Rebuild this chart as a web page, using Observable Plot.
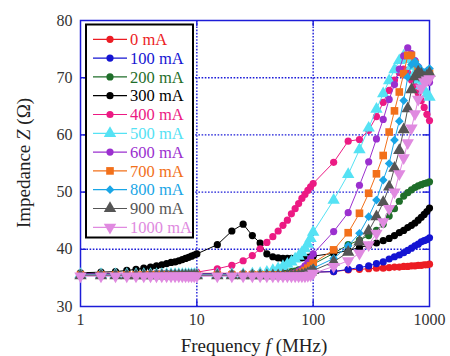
<!DOCTYPE html>
<html><head><meta charset="utf-8">
<script src="https://cdn.jsdelivr.net/npm/d3@7"></script>
<script src="https://cdn.jsdelivr.net/npm/@observablehq/plot@0.6"></script>
<style>body{margin:0;background:#fff}#chart{width:450px;height:356px}</style>
</head><body><div id="chart"></div>
<script>
// Frequency sweep (MHz)
const freq = [1,1.5,2,2.5,3,3.5,4,4.5,5,5.5,6,6.5,7,7.5,8,8.5,9,9.5,10,
  15,20,25,30,35,40,45,50,55,60,65,70,75,80,85,90,95,100,
  150,200,250,300,350,400,450,500,550,600,650,700,750,800,850,900,950,1000];

// Impedance Z (Ohm) for each bias current
const z0 = [35.8,35.8,35.8,35.8,35.8,35.8,35.8,35.8,35.8,35.8,35.8,35.8,35.8,35.8,35.8,35.8,35.8,35.8,35.8,
  35.8,35.8,35.8,35.8,35.8,35.8,35.8,35.8,35.8,35.8,35.8,35.9,35.9,35.9,35.9,35.9,35.9,36.0,
  36.1,36.4,36.5,36.6,36.7,36.7,36.8,36.9,36.9,37.0,37.0,37.1,37.1,37.2,37.2,37.3,37.3,37.4];
const z100 = [35.7,35.7,35.7,35.7,35.7,35.7,35.7,35.7,35.7,35.7,35.7,35.7,35.7,35.7,35.7,35.7,35.7,35.7,35.7,
  35.7,35.7,35.7,35.7,35.7,35.7,35.7,35.7,35.7,35.7,35.7,35.7,35.7,35.7,35.8,35.8,35.9,36.0,
  36.1,36.5,36.8,37.1,37.5,37.8,38.3,38.7,39.0,39.4,39.8,40.2,40.6,40.9,41.3,41.5,41.7,42.0];
const z200 = [35.6,35.6,35.6,35.6,35.6,35.6,35.6,35.6,35.6,35.6,35.6,35.6,35.6,35.6,35.6,35.6,35.6,35.6,35.6,
  35.6,35.6,35.6,35.6,35.7,35.7,35.8,35.8,35.9,36.0,36.1,36.2,36.4,36.5,36.7,36.9,37.1,37.4,
  39.3,40.8,41.6,42.4,43.3,44.4,45.8,47.1,48.4,49.3,49.9,50.4,50.8,51.1,51.3,51.5,51.6,51.8];
const z300 = [35.9,36.0,36.1,36.3,36.5,36.7,36.9,37.1,37.3,37.5,37.7,37.8,38.0,38.2,38.4,38.6,38.8,39.0,39.2,
  40.8,43.2,44.4,42.4,41.1,39.2,38.7,38.5,38.4,38.4,38.4,38.4,38.5,38.5,38.6,38.6,38.7,38.8,
  39.3,39.8,40.3,40.7,41.1,41.5,41.9,42.4,42.9,43.3,43.8,44.2,44.6,45.1,45.6,46.1,46.6,47.2];
const z400 = [35.6,35.6,35.6,35.6,35.6,35.6,35.6,35.6,35.6,35.7,35.7,35.7,35.7,35.8,35.8,35.8,35.9,35.9,36.0,
  36.6,37.2,38.0,38.9,40.1,41.2,42.2,43.2,44.2,45.1,46.2,47.1,48.0,48.9,49.6,50.3,50.9,51.5,
  55.2,58.9,59.2,60.8,63.2,65.7,67.8,69.6,70.9,71.5,70.8,69.6,68.5,67.3,66.0,64.8,63.6,62.5];
const z500 = [35.6,35.6,35.6,35.6,35.6,35.6,35.6,35.6,35.6,35.6,35.6,35.6,35.6,35.6,35.6,35.6,35.6,35.6,35.6,
  35.6,35.6,35.6,35.7,35.8,36.0,36.3,36.6,37.0,37.4,37.8,38.3,38.8,39.4,40.1,40.9,41.9,43.0,
  48.6,53.1,57.4,61.2,64.5,67.2,69.5,71.4,73.0,73.8,73.2,72.0,70.8,69.6,68.6,67.8,67.1,66.6];
const z600 = [35.5,35.5,35.5,35.5,35.5,35.5,35.5,35.5,35.5,35.5,35.5,35.5,35.5,35.5,35.5,35.5,35.5,35.5,35.5,
  35.5,35.5,35.5,35.5,35.5,35.5,35.5,35.5,35.5,35.6,35.7,35.9,36.2,36.6,37.1,37.7,38.4,39.2,
  43.1,46.4,51.2,55.3,59.3,62.7,66.2,68.8,71.5,73.8,75.2,74.2,73.0,71.9,71.0,70.3,69.7,69.2];
const z700 = [35.5,35.5,35.5,35.5,35.5,35.5,35.5,35.5,35.5,35.5,35.5,35.5,35.5,35.5,35.5,35.5,35.5,35.5,35.5,
  35.5,35.5,35.5,35.5,35.5,35.5,35.5,35.5,35.5,35.5,35.5,35.6,35.8,36.0,36.3,36.7,37.1,37.6,
  39.9,42.9,46.3,49.8,53.2,56.4,60.5,64.2,67.5,70.7,73.9,73.9,72.5,71.3,70.6,70.5,70.6,70.8];
const z800 = [35.5,35.5,35.5,35.5,35.5,35.5,35.5,35.5,35.5,35.5,35.5,35.5,35.5,35.5,35.5,35.5,35.5,35.5,35.5,
  35.5,35.5,35.5,35.5,35.5,35.5,35.5,35.5,35.5,35.5,35.5,35.5,35.6,35.7,35.9,36.1,36.4,36.7,
  38.4,40.6,42.8,45.7,48.6,52.1,55.0,59.1,62.4,66.0,70.1,72.3,72.8,72.0,71.3,70.9,71.2,71.6];
const z900 = [35.4,35.4,35.4,35.4,35.4,35.4,35.4,35.4,35.4,35.4,35.4,35.4,35.4,35.4,35.4,35.4,35.4,35.4,35.4,
  35.4,35.4,35.4,35.4,35.4,35.4,35.4,35.4,35.4,35.4,35.4,35.4,35.4,35.5,35.6,35.8,36.0,36.3,
  37.8,39.5,41.3,43.2,45.7,48.2,50.9,54.2,57.3,60.9,64.6,67.9,70.2,71.0,70.6,70.0,70.3,70.8];
const z1000 = [35.3,35.3,35.3,35.3,35.3,35.3,35.3,35.3,35.3,35.3,35.3,35.3,35.3,35.3,35.3,35.3,35.3,35.3,35.3,
  35.3,35.3,35.3,35.3,35.3,35.3,35.3,35.3,35.3,35.3,35.3,35.3,35.3,35.3,35.3,35.4,35.5,35.8,
  37.0,38.0,39.3,40.8,42.8,44.8,47.1,50.0,53.2,56.0,58.6,61.2,63.7,66.2,68.2,69.3,69.6,69.8];

const labels = ["0 mA","100 mA","200 mA","300 mA","400 mA","500 mA","600 mA","700 mA","800 mA","900 mA","1000 mA"];
const colors = ["#ec1c24","#1414d2","#1f6e2a","#000000","#ec1a83","#55e2f4","#9b30cf","#f2701a","#1aa6e6","#555555","#e08ae0"];
const yTicks = [30,40,50,60,70,80];
const xTicks = [1,10,100,1000];

const triangleDown = {
  draw(context, size) {
    const y = -Math.sqrt(size / (Math.sqrt(3) * 3));
    context.moveTo(0, -y * 2);
    context.lineTo(-Math.sqrt(3) * y, y);
    context.lineTo(Math.sqrt(3) * y, y);
    context.closePath();
  }
};
const sym = {circle: d3.symbolCircle, square: d3.symbolSquare, triangle: d3.symbolTriangle, diamond: d3.symbolDiamond2, down: triangleDown};
const kinds = ["circle","circle","circle","circle","circle","triangle","circle","square","diamond","triangle","down"];
const radius = {circle: 3.6, square: 4.3, triangle: 4.6, diamond: 3.9, down: 4.6};

const series = [z0,z100,z200,z300,z400,z500,z600,z700,z800,z900,z1000];

const W = 450, H = 356, mL = 80, mR = 21, mT = 20, mB = 50;
const pw = W - mL - mR, ph = H - mT - mB;
const blue = "#1c1cd8";
const serif = "'Liberation Serif', 'Times New Roman', serif";

const marks = [
  Plot.gridY([40,50,60,70], {stroke: blue, strokeOpacity: 1, strokeWidth: 1.4, strokeDasharray: "1.6,1.6"}),
  Plot.gridX([10,100], {stroke: blue, strokeOpacity: 1, strokeWidth: 1.4, strokeDasharray: "1.6,1.6"}),
  Plot.frame({stroke: blue, strokeWidth: 1.5}),
  Plot.tickY([40,50,60,70], {y: d => d, stroke: blue, strokeWidth: 1.4, insetRight: pw - 6}),
  Plot.tickY([40,50,60,70], {y: d => d, stroke: blue, strokeWidth: 1.4, insetLeft: pw - 6}),
  Plot.tickX([10,100], {x: d => d, stroke: blue, strokeWidth: 1.4, insetTop: ph - 6}),
  Plot.tickX([10,100], {x: d => d, stroke: blue, strokeWidth: 1.4, insetBottom: ph - 6}),
  Plot.axisY(yTicks, {tickSize: 0, tickPadding: 8, fontSize: 16, fill: "#333", label: null}),
  Plot.axisX(xTicks, {tickSize: 0, tickPadding: 7, fontSize: 16, fill: "#333", label: null, tickFormat: d => String(d)})
];
series.forEach((s, i) => {
  const rows = s.map((z, j) => ({f: freq[j], z}));
  marks.push(Plot.line(rows, {x: "f", y: "z", stroke: colors[i], strokeWidth: 1}));
  marks.push(Plot.dot(rows, {x: "f", y: "z", fill: colors[i], r: radius[kinds[i]], symbol: sym[kinds[i]]}));
});

const chart = Plot.plot({
  width: W, height: H,
  marginLeft: mL, marginRight: mR, marginTop: mT, marginBottom: mB,
  style: {fontFamily: serif, fontSize: "16px", background: "#fff", overflow: "visible"},
  x: {type: "log", domain: [1, 1000], axis: null},
  y: {domain: [30, 80], axis: null},
  marks
});
document.getElementById("chart").appendChild(chart);

const svg = d3.select(chart);
// axis titles
const xt = svg.append("text").attr("x", 254).attr("y", 352).attr("text-anchor", "middle")
  .attr("font-family", serif).attr("font-size", 19).attr("fill", "#222");
xt.append("tspan").text("Frequency ");
xt.append("tspan").attr("font-style", "italic").text("f");
xt.append("tspan").text(" (MHz)");
const yt = svg.append("text").attr("transform", "translate(30,163) rotate(-90)").attr("text-anchor", "middle")
  .attr("font-family", serif).attr("font-size", 19).attr("fill", "#222");
yt.append("tspan").text("Impedance ");
yt.append("tspan").attr("font-style", "italic").text("Z");
yt.append("tspan").text(" (Ω)");

// legend
const lg = svg.append("g");
lg.append("rect").attr("x", 86).attr("y", 24.5).attr("width", 107).attr("height", 213)
  .attr("fill", "#fff").attr("stroke", "#000").attr("stroke-width", 2);
labels.forEach((lab, i) => {
  const y = 39.3 + i * 18.8;
  lg.append("line").attr("x1", 93).attr("x2", 127).attr("y1", y).attr("y2", y)
    .attr("stroke", colors[i]).attr("stroke-width", 1.2);
  const r = radius[kinds[i]];
  lg.append("path").attr("transform", `translate(110,${y})`)
    .attr("d", d3.symbol().type(sym[kinds[i]]).size(Math.PI * r * r)()).attr("fill", colors[i]);
  lg.append("text").attr("x", 130).attr("y", y).attr("dy", "0.35em").attr("text-anchor", "start")
    .attr("font-family", serif).attr("font-size", 16.5).attr("fill", colors[i]).text(lab);
});
</script>
</body></html>
